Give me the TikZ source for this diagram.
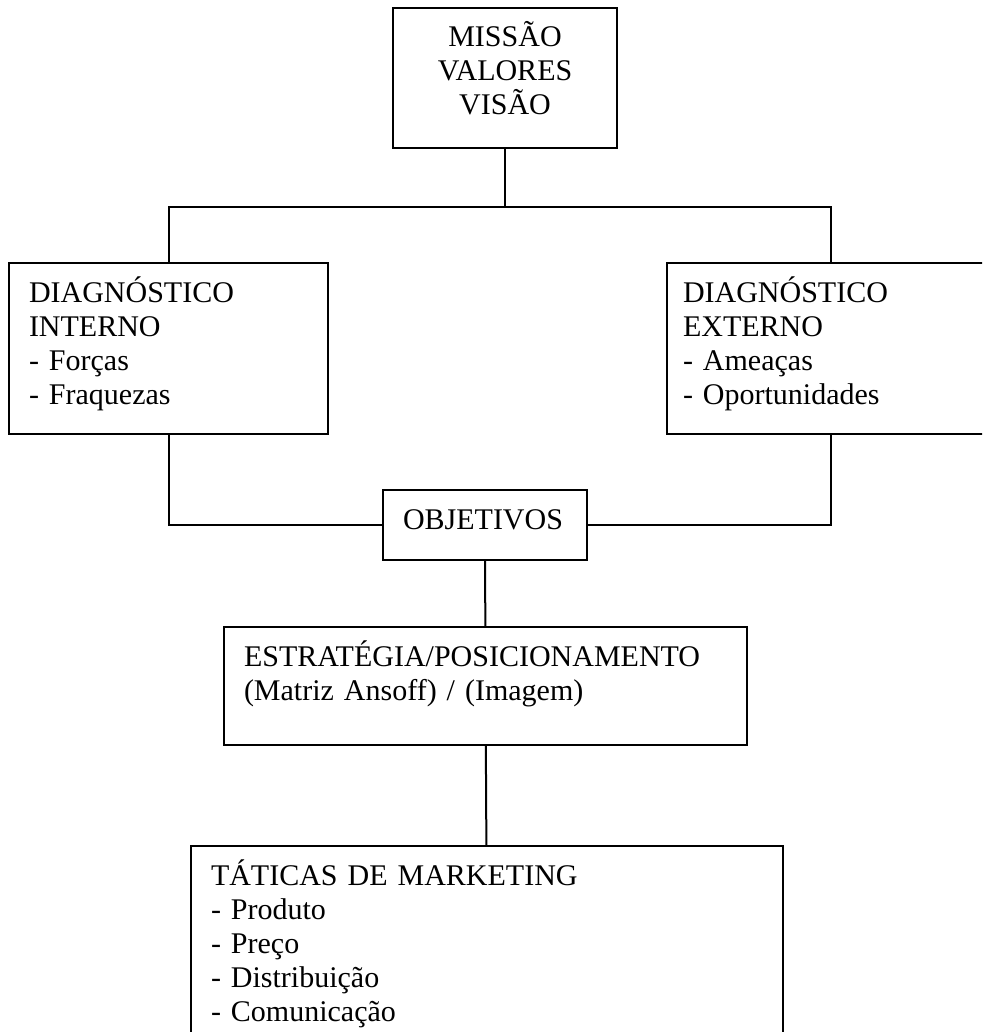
\documentclass[tikz,border=0pt]{standalone}
\usepackage{fontspec}
\setmainfont{Liberation Serif}
\usetikzlibrary{positioning}

\begin{document}
\begin{tikzpicture}[x=0.5pt,y=-0.5pt,
    box/.style={rectangle,draw,line width=1pt,font=\fontsize{15pt}{17pt}\selectfont,
        align=left,inner xsep=10pt,inner ysep=7.5pt,text height=12pt},
    link/.style={line width=1pt}
]
\useasboundingbox (0,0) rectangle (982,1032);
\clip (0,0) rectangle (982,1032);

% mission / values / vision
\node[box,align=center,text width=92pt,text depth=43pt] (mvv) at (505,78) {MISSÃO\\VALORES\\VISÃO};

% internal and external diagnosis
\node[box,text width=139.5pt,text depth=58.5pt] (diagint) at (168.5,348.5) {DIAGNÓSTICO\\INTERNO\\- Forças\\- Fraquezas};
\node[box,inner xsep=8pt,text width=148pt,text depth=58.5pt] (diagext) at (831,348.5) {DIAGNÓSTICO\\EXTERNO\\- Ameaças\\- Oportunidades};

\coordinate (split) at (505,207);
\draw[link] (mvv) -- (split);
\draw[link] (diagint.north) |- (split) -| (diagext.north);

% objectives
\node[box,text width=82pt,text depth=8pt] (obj) at (485,525) {OBJETIVOS};
\draw[link] (diagint.south) |- (obj.west);
\draw[link] (diagext.south) |- (obj.east);

% strategy
\node[box,text width=241.5pt,text depth=32pt] (estr) at (485.5,686) {ESTRATÉGIA/POSICIONAMENTO\\(Matriz Ansoff) / (Imagem)};
\draw[link] (obj) -- (estr);

% marketing tactics
\node[box,text width=276pt,text depth=83pt,anchor=north] (tat) at (487,845) {TÁTICAS DE MARKETING\\- Produto\\- Preço\\- Distribuição\\- Comunicação};
\draw[link] (estr) -- (tat);

\end{tikzpicture}
\end{document}
